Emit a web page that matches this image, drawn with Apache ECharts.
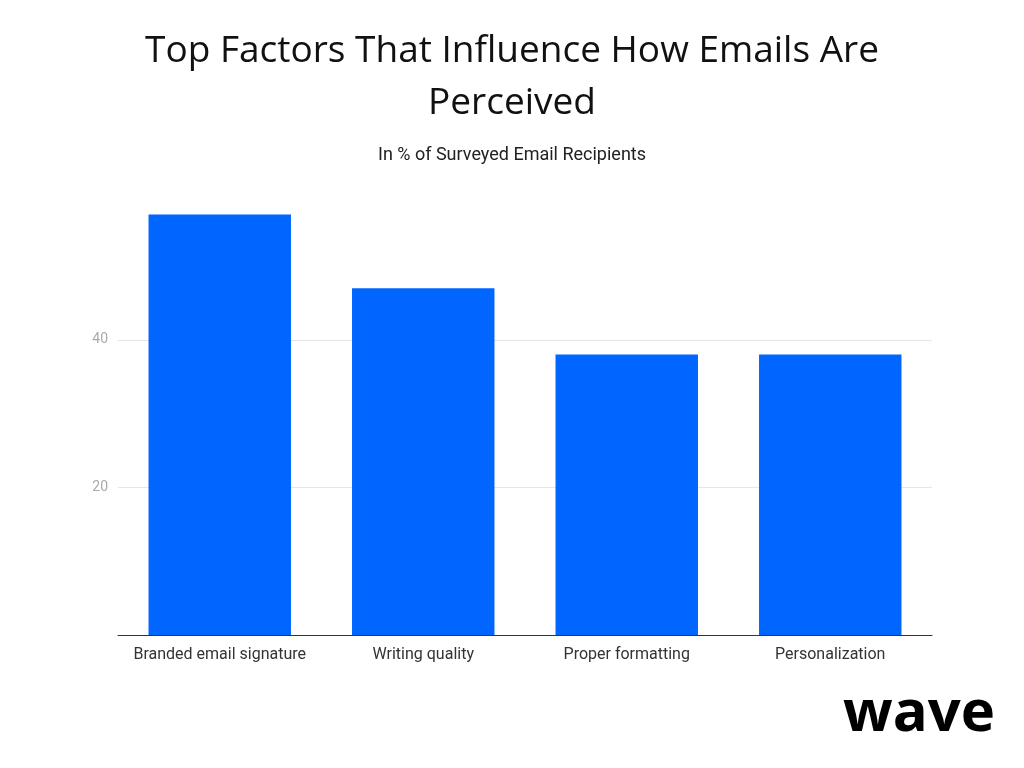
<!DOCTYPE html>
<html>
<head>
<meta charset="utf-8">
<script src="https://cdn.jsdelivr.net/npm/echarts@6/dist/echarts.min.js"></script>
<style>html,body{margin:0;padding:0;background:#fff}#chart{width:1024px;height:768px}</style>
</head>
<body>
<div id="chart"></div>
<script>
var categories = ['Branded email signature', 'Writing quality', 'Proper formatting', 'Personalization'];
var values = [57, 47, 38, 38];
var yTicks = [20, 40];

var myChart = echarts.init(document.getElementById('chart'));
var option = {
    backgroundColor: '#fff',
    title: [{
        text: 'Top Factors That Influence How Emails Are\nPerceived',
        left: 'center', top: 20,
        textStyle: {fontFamily: 'Open Sans', fontSize: 37, fontWeight: 'normal', color: '#111', lineHeight: 52}
    }, {
        text: 'In % of Surveyed Email Recipients',
        left: 'center', top: 141,
        textStyle: {fontFamily: 'Roboto', fontSize: 18, fontWeight: 'normal', color: '#222'}
    }, {
        text: 'wave',
        right: 24, top: 680,
        textStyle: {fontFamily: 'Open Sans', fontSize: 58, fontWeight: 'bold', color: '#000'}
    }],
    grid: {left: 118, right: 92, top: 207, bottom: 133},
    xAxis: {
        type: 'category', data: categories,
        axisLine: {lineStyle: {color: '#333'}},
        axisTick: {show: false},
        axisLabel: {fontFamily: 'Roboto', fontSize: 16, color: '#333', margin: 12, interval: 0}
    },
    yAxis: {
        type: 'value', min: 0, max: 58, interval: 20,
        axisLine: {show: false}, axisTick: {show: false},
        splitLine: {lineStyle: {color: '#e6e6e6'}, showMaxLine: false, showMinLine: false},
        axisLabel: {
            fontFamily: 'Roboto', fontSize: 14, color: '#aaa', margin: 10,
            formatter: function (v) { return yTicks.indexOf(v) >= 0 ? v : ''; }
        }
    },
    series: [{
        type: 'bar', data: values, barWidth: '70%',
        itemStyle: {color: '#0066ff'}
    }]
};
myChart.setOption(option);
</script>
</body>
</html>
